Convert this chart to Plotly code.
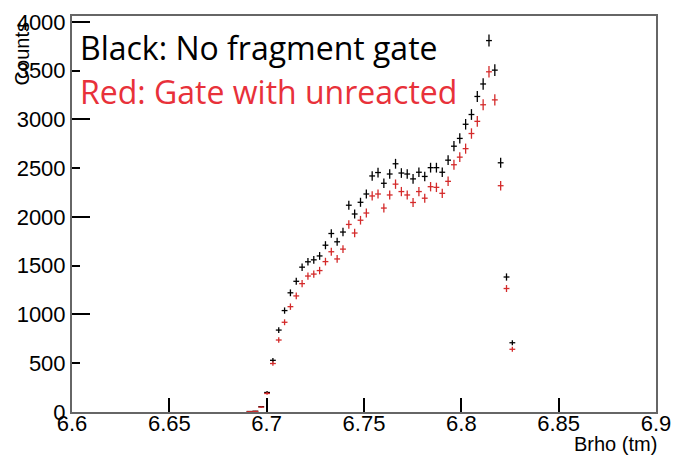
import numpy as np
import plotly.graph_objects as go

# Bin centres (Brho, tm), bin width 0.003
brho = [6.6912, 6.6942, 6.6972, 6.7002, 6.7032, 6.7062, 6.7092, 6.7122, 6.7152,
        6.7182, 6.7212, 6.7242, 6.7272, 6.7302, 6.7332, 6.7362, 6.7392, 6.7422,
        6.7452, 6.7482, 6.7512, 6.7542, 6.7572, 6.7602, 6.7632, 6.7662, 6.7692,
        6.7722, 6.7752, 6.7782, 6.7812, 6.7842, 6.7872, 6.7902, 6.7932, 6.7962,
        6.7992, 6.8022, 6.8052, 6.8082, 6.8112, 6.8142, 6.8172, 6.8202, 6.8232,
        6.8262]

counts_all = [5, 8, 55, 200, 530, 840, 1040, 1222, 1340, 1485, 1540, 1560, 1600,
              1710, 1830, 1745, 1845, 2120, 2030, 2150, 2235, 2420, 2455, 2345,
              2440, 2545, 2450, 2440, 2390, 2458, 2415, 2505, 2505, 2458, 2582,
              2725, 2805, 2950, 3050, 3235, 3363, 3808, 3505, 2555, 1384, 710]

counts_gate = [3, 6, 50, 190, 497, 738, 920, 1080, 1190, 1316, 1394, 1414, 1450,
               1542, 1643, 1569, 1670, 1923, 1835, 1966, 2040, 2215, 2235, 2091,
               2225, 2336, 2260, 2225, 2148, 2260, 2192, 2310, 2303, 2242, 2365,
               2535, 2613, 2700, 2855, 2980, 3150, 3488, 3200, 2320, 1266, 643]

half_bin = 0.0015
RED = "#d42a2a"

fig = go.Figure()
for ys, col in [(counts_all, "black"), (counts_gate, RED)]:
    fig.add_trace(go.Scatter(
        x=brho, y=ys, mode="markers",
        marker=dict(size=0.1, color=col, opacity=0),
        error_x=dict(type="constant", value=half_bin, width=0, thickness=1.3, color=col),
        error_y=dict(type="data", array=list(np.sqrt(ys)), width=0, thickness=1.3, color=col),
        showlegend=False, hoverinfo="x+y",
    ))

# dummy trace to carry the long-tick overlay axis
fig.add_trace(go.Scatter(x=[None], y=[None], yaxis="y2", showlegend=False))

tick_font = dict(family="Liberation Sans Narrow, Arial Narrow, Liberation Sans, Arial", size=22, color="black")

fig.update_layout(
    width=681, height=455,
    margin=dict(l=72, r=16, t=10, b=43),
    paper_bgcolor="white", plot_bgcolor="white",
    xaxis=dict(range=[6.6, 6.9], dtick=0.05, tick0=6.6, ticks="inside", ticklen=14,
               tickwidth=1.5, tickcolor="black", showgrid=False, zeroline=False,
               showline=True, linecolor="#666", linewidth=2, mirror=True,
               tickfont=tick_font, tickformat="~g", ticklabelstandoff=-9),
    yaxis=dict(range=[0, 4060], dtick=500, ticks="inside", ticklen=8,
               tickwidth=1.5, tickcolor="black", showgrid=False, zeroline=False,
               showline=True, linecolor="#666", linewidth=2, mirror=True,
               tickfont=tick_font),
    yaxis2=dict(range=[0, 4060], dtick=1000, overlaying="y", side="left",
                ticks="inside", ticklen=18, tickwidth=1.5, tickcolor="black",
                showticklabels=False, showgrid=False, zeroline=False, showline=False),
    annotations=[
        dict(text="Counts", textangle=-90, xref="paper", yref="paper",
             x=-0.084, y=0.99, xanchor="center", yanchor="top", showarrow=False,
             font=dict(family="Liberation Sans, Arial", size=20, color="black")),
        dict(text="Brho (tm)", xref="paper", yref="paper",
             x=1.005, y=-0.082, xanchor="right", yanchor="middle", showarrow=False,
             font=dict(family="Liberation Sans, Arial", size=20, color="black")),
        dict(text="Black: No fragment gate", xref="paper", yref="paper",
             x=0.011, y=1 - (42 - 10) / 402, xanchor="left", yanchor="middle",
             showarrow=False, font=dict(family="Open Sans", size=32, color="black")),
        dict(text="Red: Gate with unreacted", xref="paper", yref="paper",
             x=0.011, y=1 - (87 - 10) / 402, xanchor="left", yanchor="middle",
             showarrow=False, font=dict(family="Open Sans", size=32, color="#e8313a")),
    ],
)

fig.write_html("out.html")
